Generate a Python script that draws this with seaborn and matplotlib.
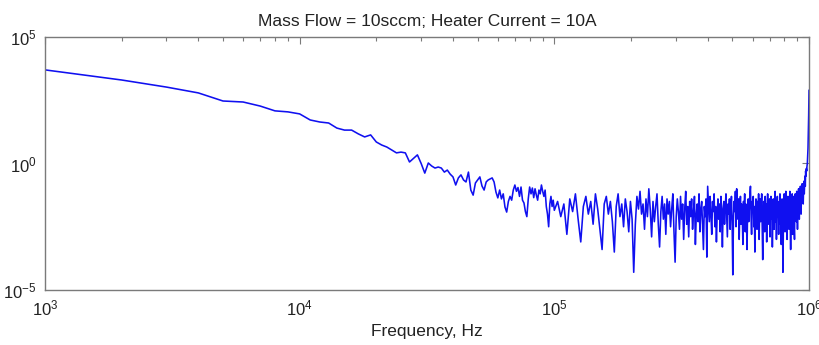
import numpy as np
import pandas as pd
import matplotlib
matplotlib.use("Agg")
import matplotlib.pyplot as plt
import matplotlib.ticker as mticker
import seaborn as sns

# ---- data ----
title = "Mass Flow = 10sccm; Heater Current = 10A"
xlabel = "Frequency, Hz"

# frequency grid (kHz): 1..100 kHz in 1 kHz steps, then 103..1000 kHz in 3 kHz steps
freq_low_khz = list(range(1, 101))
freq_high_khz = list(range(103, 1001, 3))

# log10 of spectral amplitude, 1..100 kHz
log_amp_low = [
    3.70, 3.30, 3.02, 2.79, 2.47, 2.43, 2.27, 2.08, 2.04, 1.96,
    1.72, 1.64, 1.60, 1.40, 1.32, 1.32, 1.17, 1.05, 1.13, 0.85,
    0.73, 0.65, 0.53, 0.42, 0.45, 0.42, 0.06, 0.20, 0.34, 0.00,
    -0.38, 0.02, -0.10, -0.18, -0.14, -0.18, -0.34, -0.26, -0.42, -0.53,
    -0.85, -0.57, -0.45, -0.65, -0.73, -0.34, -1.05, -1.25, -0.77, -0.65,
    -0.53, -0.89, -1.05, -0.73, -0.65, -0.61, -0.57, -0.73, -1.13, -1.36,
    -1.05, -1.40, -1.20, -1.72, -1.92, -1.50, -1.30, -1.45, -1.05, -0.85,
    -1.10, -0.95, -1.30, -0.93, -1.45, -1.56, -1.90, -2.10, -1.40, -0.93,
    -1.20, -0.97, -1.35, -1.00, -1.25, -1.45, -1.05, -1.20, -0.85, -1.10,
    -1.30, -1.05, -1.70, -2.00, -2.50, -1.60, -1.30, -1.70, -1.45, -1.85,
]

# log10 of spectral amplitude, 103..1000 kHz
log_amp_high = [
    -1.5, -2.1, -1.6, -2.8, -1.4, -1.9, -1.2, -2.2, -3.1, -1.7, -1.3, -2.0, -1.5, -2.4, -1.2, -1.8, -2.6, -3.4, -1.6, -1.3,
    -2.0, -1.5, -2.3, -3.5, -1.7, -1.2, -2.1, -1.6, -2.5, -1.4, -1.9, -2.7, -1.5, -2.2, -4.3, -2.4, -1.3, -1.8, -1.1, -2.0,
    -1.6, -2.6, -1.4, -2.1, -1.0, -1.8, -2.9, -1.5, -2.3, -1.7, -1.2, -2.4, -3.3, -1.9, -1.3, -2.2, -1.6, -2.8, -1.4, -2.0,
    -1.5, -2.5, -1.8, -1.2, -2.7, -3.9, -2.1, -1.4, -1.9, -2.6, -1.3, -2.2, -1.6, -3.0, -1.8, -1.1, -2.4, -1.7, -2.9, -1.5,
    -2.1, -1.4, -2.6, -1.9, -1.3, -3.2, -2.0, -1.6, -2.3, -1.2, -2.7, -1.8, -1.5, -2.4, -3.4, -1.7, -2.1, -1.4, -3.7, -0.9,
    -1.6, -2.3, -1.3, -2.0, -2.8, -1.5, -1.9, -1.2, -2.5, -1.7, -3.1, -2.0, -1.4, -2.2, -1.6, -2.7, -1.3, -1.9, -3.3, -1.8,
    -1.5, -2.4, -1.7, -1.2, -2.1, -2.9, -1.6, -2.0, -1.4, -2.6, -1.8, -1.3, -2.3, -4.4, -2.2, -1.5, -1.9, -1.1, -2.5, -1.0,
    -1.7, -2.2, -1.4, -3.0, -1.8, -1.3, -2.4, -1.6, -2.0, -3.2, -1.5, -1.9, -1.2, -2.7, -1.6, -2.1, -3.4, -1.8, -1.4, -2.3,
    -1.7, -1.2, -0.9, -2.0, -2.8, -1.5, -1.9, -1.3, -2.5, -1.7, -3.5, -2.1, -1.4, -1.8, -2.6, -1.5, -2.2, -1.2, -3.0, -1.8,
    -1.4, -2.3, -1.7, -1.2, -2.6, -3.8, -2.0, -1.5, -1.9, -2.7, -1.3, -2.1, -1.6, -3.1, -1.8, -1.2, -2.4, -1.7, -2.2, -1.4,
    -2.9, -1.8, -1.3, -2.2, -1.6, -3.3, -2.0, -1.4, -1.9, -2.6, -1.5, -1.1, -2.3, -1.7, -3.0, -1.9, -1.3, -2.1, -1.6, -2.8,
    -1.5, -1.9, -1.2, -2.4, -1.7, -3.2, -2.0, -1.4, -2.2, -4.3, -2.5, -1.6, -1.2, -1.9, -2.7, -1.5, -1.1, -2.0, -1.6, -3.0,
    -1.8, -1.3, -2.1, -1.5, -2.6, -1.7, -1.1, -2.3, -3.4, -1.9, -1.4, -2.0, -1.2, -2.8, -1.6, -1.9, -1.3, -2.5, -3.0, -1.5,
    -1.2, -1.9, -1.4, -2.3, -1.1, -1.6, -2.6, -1.3, -1.8, -1.0, -1.5, -2.2, -1.2, -1.7, -0.9, -1.4, -2.0, -1.1, -1.5, -0.8,
    -1.3, -0.9, -1.6, -1.0, -0.7, -1.2, -0.8, -0.5, -0.9, -0.3, -0.5, -0.2, -0.3, -0.1, 0.0, 0.3, 0.6, 1.2, 1.9, 2.9,
]

xticks = [1e3, 1e4, 1e5, 1e6]
yticks = [1e-5, 1e0, 1e5]

# ---- build frame ----
freq_hz = np.array(freq_low_khz + freq_high_khz, dtype=float) * 1000.0
amp = 10.0 ** np.array(log_amp_low + log_amp_high)
df = pd.DataFrame({"freq": freq_hz, "amp": amp})

sns.set_style("white")
plt.rcParams["font.family"] = ["Liberation Sans", "DejaVu Sans"]
plt.rcParams["mathtext.fontset"] = "custom"
plt.rcParams["mathtext.rm"] = "Liberation Sans"
plt.rcParams["mathtext.it"] = "Liberation Sans:italic"
plt.rcParams["axes.unicode_minus"] = False

fig = plt.figure(figsize=(8.19, 3.45), dpi=100)
ax = fig.add_axes([0.0549, 0.1594, 0.9329, 0.7334])

sns.lineplot(data=df, x="freq", y="amp", ax=ax, color="#1010f0",
             linewidth=1.15, estimator=None, sort=False, legend=False)

ax.set_xscale("log")
ax.set_yscale("log")
ax.set_xlim(1e3, 1e6)
ax.set_ylim(1e-5, 1e5)

ax.set_xticks(xticks)
ax.xaxis.set_minor_locator(mticker.LogLocator(base=10, subs=np.arange(2, 10)))
ax.xaxis.set_minor_formatter(mticker.NullFormatter())
ax.set_yticks(yticks)
ax.yaxis.set_minor_locator(mticker.NullLocator())

edge = "#7a7a7a"
for s in ax.spines.values():
    s.set_visible(True)
    s.set_color(edge)
    s.set_linewidth(1.0)

ax.tick_params(which="both", direction="in", top=True, right=True,
               color=edge, labelcolor="#222222", labelsize=12)
ax.tick_params(which="major", length=5, width=0.8, pad=6)
ax.tick_params(which="minor", length=3, width=0.8)

ax.set_title(title, fontsize=12.5, color="#222222", pad=8)
ax.set_xlabel(xlabel, fontsize=12.5, color="#222222", labelpad=4)
ax.set_ylabel("")

fig.savefig("out.png", dpi=100)
